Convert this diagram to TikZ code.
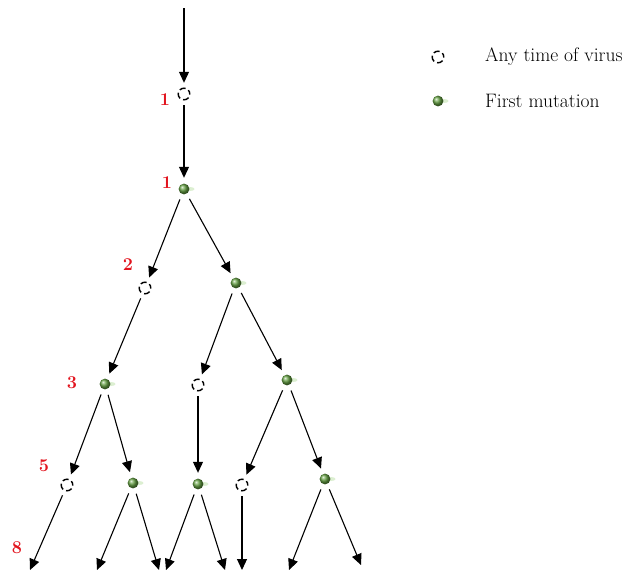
\documentclass[tikz,border=0pt]{standalone}
\usepackage{xcolor}
\usepackage{tikz}
\usetikzlibrary{arrows.meta,positioning,calc}
\definecolor{mutgreen}{RGB}{100,160,66}
\definecolor{mutshade}{RGB}{205,232,190}
\definecolor{gennum}{RGB}{226,20,30}

\begin{document}
\begin{tikzpicture}[
    x=1pt,y=-1pt,
    anyv/.style={circle,minimum size=22pt,inner sep=0pt,
      path picture={\draw[line width=1.4pt,dash pattern=on 6.2pt off 3.2pt,dash phase=2pt]
        (path picture bounding box.center) circle (5.8pt);}},
    mut/.style={circle,minimum size=22pt,inner sep=0pt,
      path picture={\fill[mutshade,opacity=.7] ($(path picture bounding box.center)+(6pt,0)$) ellipse (4.5pt and 2pt);
        \shade[ball color=mutgreen] (path picture bounding box.center) circle (5.4pt);}},
    gen/.style={text=gennum,font=\fontsize{18}{20}\selectfont\bfseries,inner sep=0pt},
    legtext/.style={anchor=west,inner sep=0pt,font=\fontsize{19.5}{22}\selectfont},
    flow/.style={-{Triangle[length=11pt,width=10pt]},line width=1.1pt}
  ]
    \useasboundingbox (0,0) rectangle (636,571);
    % tree
    \coordinate (start) at (184,8);
    \node[anyv] (root) at (184,94) {};
    \node[mut] (m1) at (184,189) {};
    \node[anyv] (a2) at (145,288) {};
    \node[mut] (b2) at (236,283) {};
    \node[mut] (a3) at (105,384) {};
    \node[anyv] (b3) at (198,385) {};
    \node[mut] (c3) at (287,380) {};
    \node[anyv] (a4) at (67,485) {};
    \node[mut] (b4) at (133,483) {};
    \node[mut] (c4) at (198,484) {};
    \node[anyv] (d4) at (242,485) {};
    \node[mut] (e4) at (325,479) {};
    \coordinate (o1) at (30,570);
    \coordinate (o2) at (97,570);
    \coordinate (o3) at (159,570);
    \coordinate (o4) at (166,570);
    \coordinate (o5) at (225,570);
    \coordinate (o6) at (242,570);
    \coordinate (o7) at (289,570);
    \coordinate (o8) at (361,565);
    % generation numbers
    \node[gen] (g1) at (165,100) {1};
    \node[gen] (g2) at (167,183) {1};
    \node[gen] (g3) at (128,265) {2};
    \node[gen] (g4) at (72,383) {3};
    \node[gen] (g5) at (44,466) {5};
    \node[gen] (g6) at (17,548) {8};
    \draw[flow] (start) -- (root);
    \draw[flow] (root) -- (m1);
    \draw[flow] (m1) -- (a2);
    \draw[flow] (m1) -- (b2);
    \draw[flow] (a2) -- (a3);
    \draw[flow] (b2) -- (b3);
    \draw[flow] (b2) -- (c3);
    \draw[flow] (a3) -- (a4);
    \draw[flow] (a3) -- (b4);
    \draw[flow] (b3) -- (c4);
    \draw[flow] (c3) -- (d4);
    \draw[flow] (c3) -- (e4);
    \draw[flow] (a4) -- (o1);
    \draw[flow] (b4) -- (o2);
    \draw[flow] (b4) -- (o3);
    \draw[flow] (c4) -- (o4);
    \draw[flow] (c4) -- (o5);
    \draw[flow] (d4) -- (o6);
    \draw[flow] (e4) -- (o7);
    \draw[flow] (e4) -- (o8);
    % legend
    \node[anyv] (keyany) at (438,57) {};
    \node[legtext] (keyanytxt) at (485,57) {Any time of virus};
    \node[mut] (keymut) at (438,101) {};
    \node[legtext] (keymuttxt) at (485,101) {First mutation};
  \end{tikzpicture}
\end{document}
